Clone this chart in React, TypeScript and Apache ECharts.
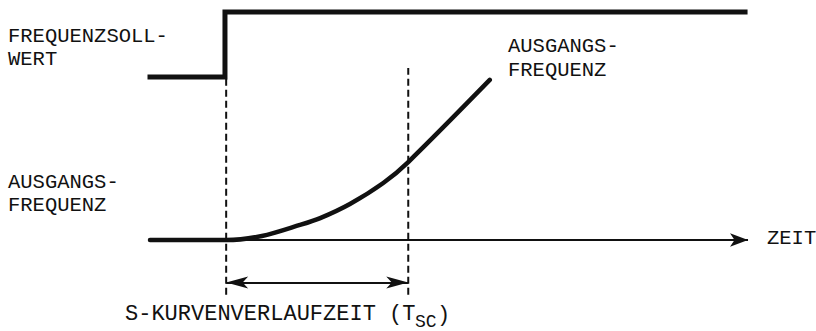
import React, { useEffect, useRef } from "react";
import * as echarts from "echarts";

// Time axis (arbitrary units 0..101), level axis (0 = baseline, 100 = setpoint high)
const setpointTime = [0, 12.6, 12.6, 100];
const setpointLevel = [71.5, 71.5, 100, 100];

const outputTime = [0, 12.8, 18.8, 25.2, 28.6, 33.6, 39.2, 43.4, 57.1];
const outputLevel = [0, 0, 1.75, 6.6, 9.6, 15.8, 25, 34.2, 70.2];

const startTime = 12.8; // start of S-curve
const endTime = 43.4; // end of S-curve (T_SC)
const leftMarkerRange = [-24, 70.6];
const rightMarkerRange = [-24, 75.4];
const spanArrowLevel = -18.6;
const axisEnd = 100.5;

const labels = {
  setpoint: ["FREQUENZSOLL-", "WERT"],
  outputLeft: ["AUSGANGS-", "FREQUENZ"],
  outputRight: ["AUSGANGS-", "FREQUENZ"],
  time: "ZEIT",
  span: "S-KURVENVERLAUFZEIT (T",
  spanSub: "SC",
  spanClose: ")",
};

const zip = (a: number[], b: number[]) => a.map((v, i) => [v, b[i]]);

const FONT = "Liberation Mono";
const INK = "#111";

export default function App() {
  const ref = useRef<HTMLDivElement>(null);
  useEffect(() => {
    if (!ref.current) return;
    const chart = echarts.init(ref.current, undefined, { renderer: "svg" });
    const txt = (text: string, x: number, y: number, size: number) => ({
      type: "text",
      x,
      y,
      silent: true,
      style: {
        text,
        fill: INK,
        font: `${size}px "${FONT}"`,
        verticalAlign: "middle",
        align: "left",
      },
    });
    chart.setOption({
      animation: false,
      backgroundColor: "#fff",
      grid: { left: 150, top: 12, width: 601, height: 285 },
      xAxis: { type: "value", min: 0, max: 101, show: false },
      yAxis: { type: "value", min: -25, max: 100, show: false },
      series: [
        {
          type: "line",
          data: zip(setpointTime, setpointLevel),
          symbol: "none",
          clip: false,
          lineStyle: { color: INK, width: 5, cap: "square", join: "miter" },
        },
        {
          type: "line",
          data: zip(outputTime, outputLevel),
          symbol: "none",
          smooth: 0.3,
          clip: false,
          lineStyle: { color: INK, width: 4.5, cap: "round" },
        },
        {
          type: "line",
          data: [
            [startTime, leftMarkerRange[0]],
            [startTime, leftMarkerRange[1]],
          ],
          symbol: "none",
          clip: false,
          lineStyle: { color: INK, width: 2, type: [7, 4] },
        },
        {
          type: "line",
          data: [
            [endTime, rightMarkerRange[0]],
            [endTime, rightMarkerRange[1]],
          ],
          symbol: "none",
          clip: false,
          lineStyle: { color: INK, width: 2, type: [7, 4] },
          markLine: {
            silent: true,
            animation: false,
            label: { show: false },
            lineStyle: { color: INK, width: 2, type: "solid" },
            data: [
              [
                { coord: [0, 0], symbol: "none" },
                { coord: [axisEnd, 0], symbol: "arrow", symbolSize: [10, 18] },
              ],
              [
                { coord: [startTime, spanArrowLevel], symbol: "arrow", symbolSize: [9, 22] },
                { coord: [endTime, spanArrowLevel], symbol: "arrow", symbolSize: [9, 22] },
              ],
            ],
          },
        },
      ],
      graphic: [
        txt(labels.setpoint[0], 8, 36, 20.5),
        txt(labels.setpoint[1], 8, 59, 20.5),
        txt(labels.outputLeft[0], 8, 182, 20.5),
        txt(labels.outputLeft[1], 8, 205, 20.5),
        txt(labels.outputRight[0], 508, 46.5, 20.5),
        txt(labels.outputRight[1], 508, 70, 20.5),
        txt(labels.time, 767, 238, 20.5),
        txt(labels.span, 125, 314.5, 22),
        txt(labels.spanSub, 415, 322, 18),
        txt(labels.spanClose, 437, 315, 22),
      ],
    });
    return () => chart.dispose();
  }, []);
  return (
    <div
      ref={ref}
      style={{ position: "absolute", left: 0, top: 0, width: 816, height: 331, background: "#fff" }}
    />
  );
}
